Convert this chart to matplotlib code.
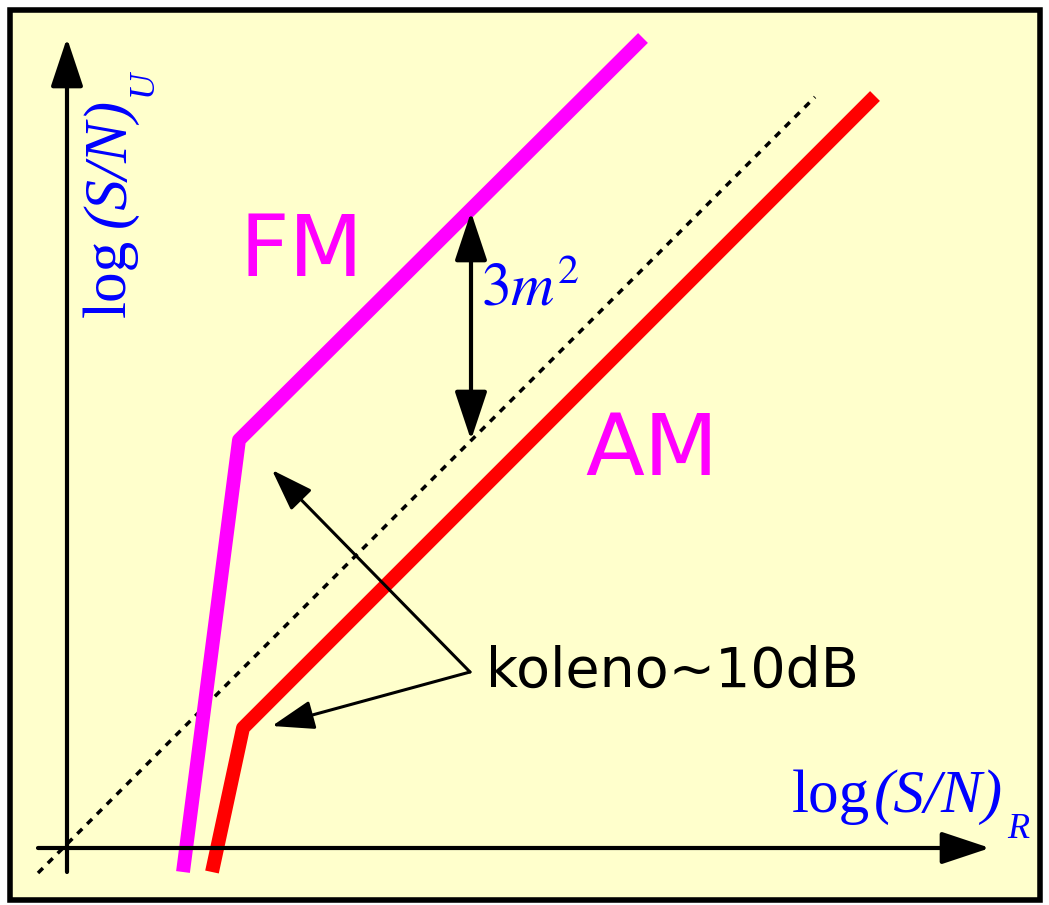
import matplotlib
matplotlib.use('Agg')
import matplotlib.pyplot as plt
from matplotlib.patches import Rectangle

# curve vertices (picture coordinates, y grows downward)
fm_x = [183, 239, 643]
fm_y = [872, 440, 38]
am_x = [212, 243, 875]
am_y = [872, 728, 96]
ref_x = [38, 815]
ref_y = [873, 97]

fig = plt.figure(figsize=(10.49, 9.05), dpi=100)
ax = fig.add_axes([0, 0, 1, 1])
ax.set_xlim(0, 1049)
ax.set_ylim(905, 0)
ax.axis('off')

ax.add_patch(Rectangle((10, 10), 1030, 890, facecolor='#ffffcc',
                       edgecolor='black', linewidth=4))

# axes arrows
arrow = dict(arrowstyle='-|>,head_length=3.0,head_width=1.0', color='black',
             lw=3, shrinkA=0, shrinkB=0)
ax.annotate('', xy=(67, 38), xytext=(67, 872), arrowprops=arrow)
ax.annotate('', xy=(990, 848), xytext=(38, 848), arrowprops=arrow)

ax.plot(ref_x, ref_y, color='black', lw=2.5, linestyle=(0, (2, 2)))
ax.plot(fm_x, fm_y, color='#ff00ff', lw=10, solid_capstyle='butt')
ax.plot(am_x, am_y, color='#ff0000', lw=10, solid_capstyle='butt')

# 3m^2 double arrow
dbl = dict(arrowstyle='<|-|>,head_length=3.0,head_width=1.0', color='black',
           lw=3, shrinkA=0, shrinkB=0)
ax.annotate('', xy=(471, 212), xytext=(471, 440), arrowprops=dbl)
ax.text(481, 288, r'$3m^2$', color='blue', fontsize=43,
        ha='left', va='center', math_fontfamily='stix')

# knee arrows
knee = dict(arrowstyle='-|>,head_length=2.6,head_width=0.9', color='black',
            lw=2.2, shrinkA=0, shrinkB=0)
ax.annotate('', xy=(272, 470), xytext=(470, 672), arrowprops=knee)
ax.annotate('', xy=(272, 726), xytext=(470, 672), arrowprops=knee)
ax.text(486, 672, 'koleno~10dB', color='black', fontsize=40,
        fontfamily='DejaVu Sans', ha='left', va='center')

ax.text(301, 252, 'FM', color='#ff00ff', fontsize=62, ha='center',
        va='center', fontfamily='DejaVu Sans')
ax.text(652, 451, 'AM', color='#ff00ff', fontsize=62, ha='center',
        va='center', fontfamily='DejaVu Sans')

# axis labels: upright "log", italic "(S/N)", small italic subscript
serif = dict(color='blue', fontfamily='Liberation Serif', va='baseline',
             ha='left', rotation_mode='anchor')
ax.text(792, 812, 'log', fontsize=44, **serif)
ax.text(874, 812, '(S/N)', fontsize=44, fontstyle='italic', **serif)
ax.text(1007, 838, 'R', fontsize=26, fontstyle='italic', **serif)

ax.text(125, 317, 'log', fontsize=44, rotation=90, **serif)
ax.text(125, 227, '(S/N)', fontsize=44, fontstyle='italic', rotation=90,
        **serif)
ax.text(152, 96, 'U', fontsize=26, fontstyle='italic', rotation=90, **serif)

fig.savefig('out.png', dpi=100)
